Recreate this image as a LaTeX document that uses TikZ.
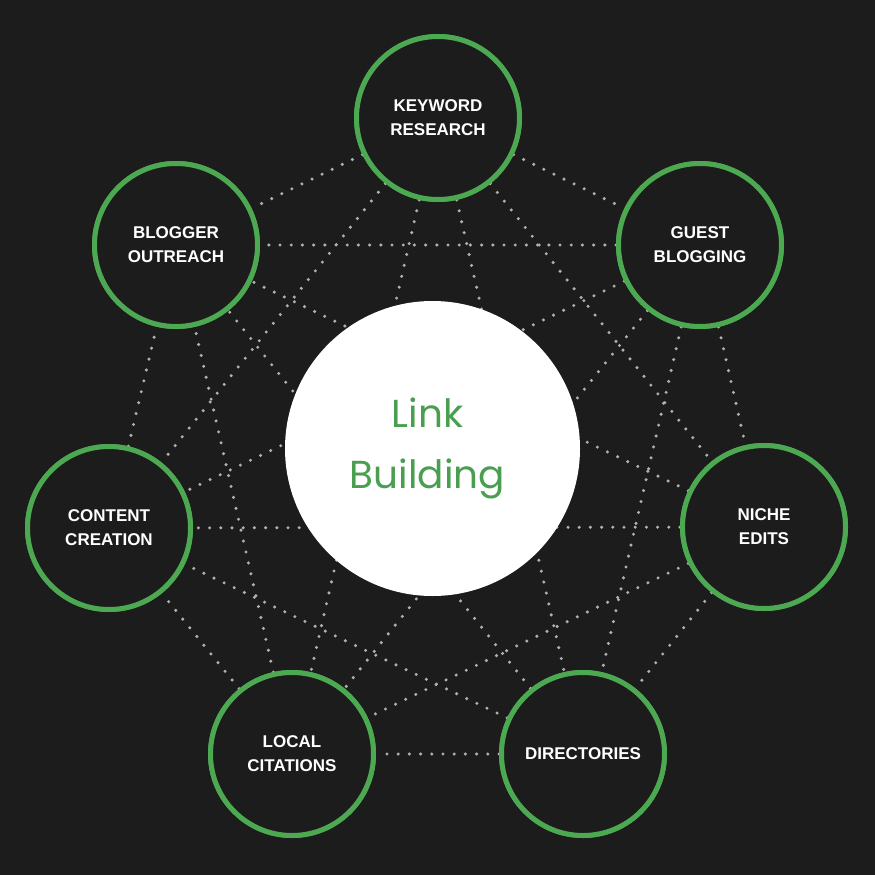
\documentclass[tikz,border=0pt]{standalone}
\usepackage{fontspec}
\setmainfont{Liberation Sans}
\newfontfamily\centerfont{Poppins}
\definecolor{bgdark}{HTML}{1C1C1C}
\definecolor{ringgreen}{HTML}{4DA852}
\definecolor{textgreen}{HTML}{4A9E50}
\definecolor{dotgray}{HTML}{B0B0B0}
\tikzset{
  topic/.style={circle, draw=ringgreen, line width=5pt, fill=bgdark,
    minimum size=163pt, inner sep=0pt, text=white, align=center,
    font=\fontsize{17}{24}\selectfont\bfseries},
  hub/.style={circle, fill=white, minimum size=295pt, inner sep=0pt,
    text=textgreen, align=center, font=\centerfont\fontsize{39}{61.5}\selectfont},
  dotline/.style={draw=dotgray, line width=3.4pt, line cap=round,
    dash pattern=on 0pt off 11.2pt}
}
\begin{document}
\begin{tikzpicture}[x=1pt,y=-1pt]
\fill[bgdark] (0,0) rectangle (875,875);
\useasboundingbox (0,0) rectangle (875,875);
% outer topics (positions only, drawn later on top)
\path
  (438,118)   node[topic] (kw) {KEYWORD\\RESEARCH}
  (700,245)   node[topic] (gb) {GUEST\\BLOGGING}
  (764,527)   node[topic] (ne) {NICHE\\EDITS}
  (583,754)   node[topic] (di) {DIRECTORIES}
  (292,754)   node[topic] (lc) {LOCAL\\CITATIONS}
  (109,528)   node[topic] (cc) {CONTENT\\CREATION}
  (176,245)   node[topic] (bo) {BLOGGER\\OUTREACH};
% dotted connections (complete graph)
\foreach \a/\b in {kw/gb,kw/ne,kw/di,kw/lc,kw/cc,kw/bo,
                   gb/ne,gb/di,gb/lc,gb/cc,gb/bo,
                   ne/di,ne/lc,ne/cc,ne/bo,
                   di/lc,di/cc,di/bo,
                   lc/cc,lc/bo,
                   cc/bo}
  \draw[dotline] (\a) -- (\b);
% hub
\node[hub] (hub) at (432.5,448.5) {\hspace*{-10pt}Link\\\hspace*{-10pt}Building};
% redraw topics on top
\path
  (438,118)   node[topic] {KEYWORD\\RESEARCH}
  (700,245)   node[topic] {GUEST\\BLOGGING}
  (764,527)   node[topic] {NICHE\\EDITS}
  (583,754)   node[topic] {DIRECTORIES}
  (292,754)   node[topic] {LOCAL\\CITATIONS}
  (109,528)   node[topic] {CONTENT\\CREATION}
  (176,245)   node[topic] {BLOGGER\\OUTREACH};
\end{tikzpicture}
\end{document}
